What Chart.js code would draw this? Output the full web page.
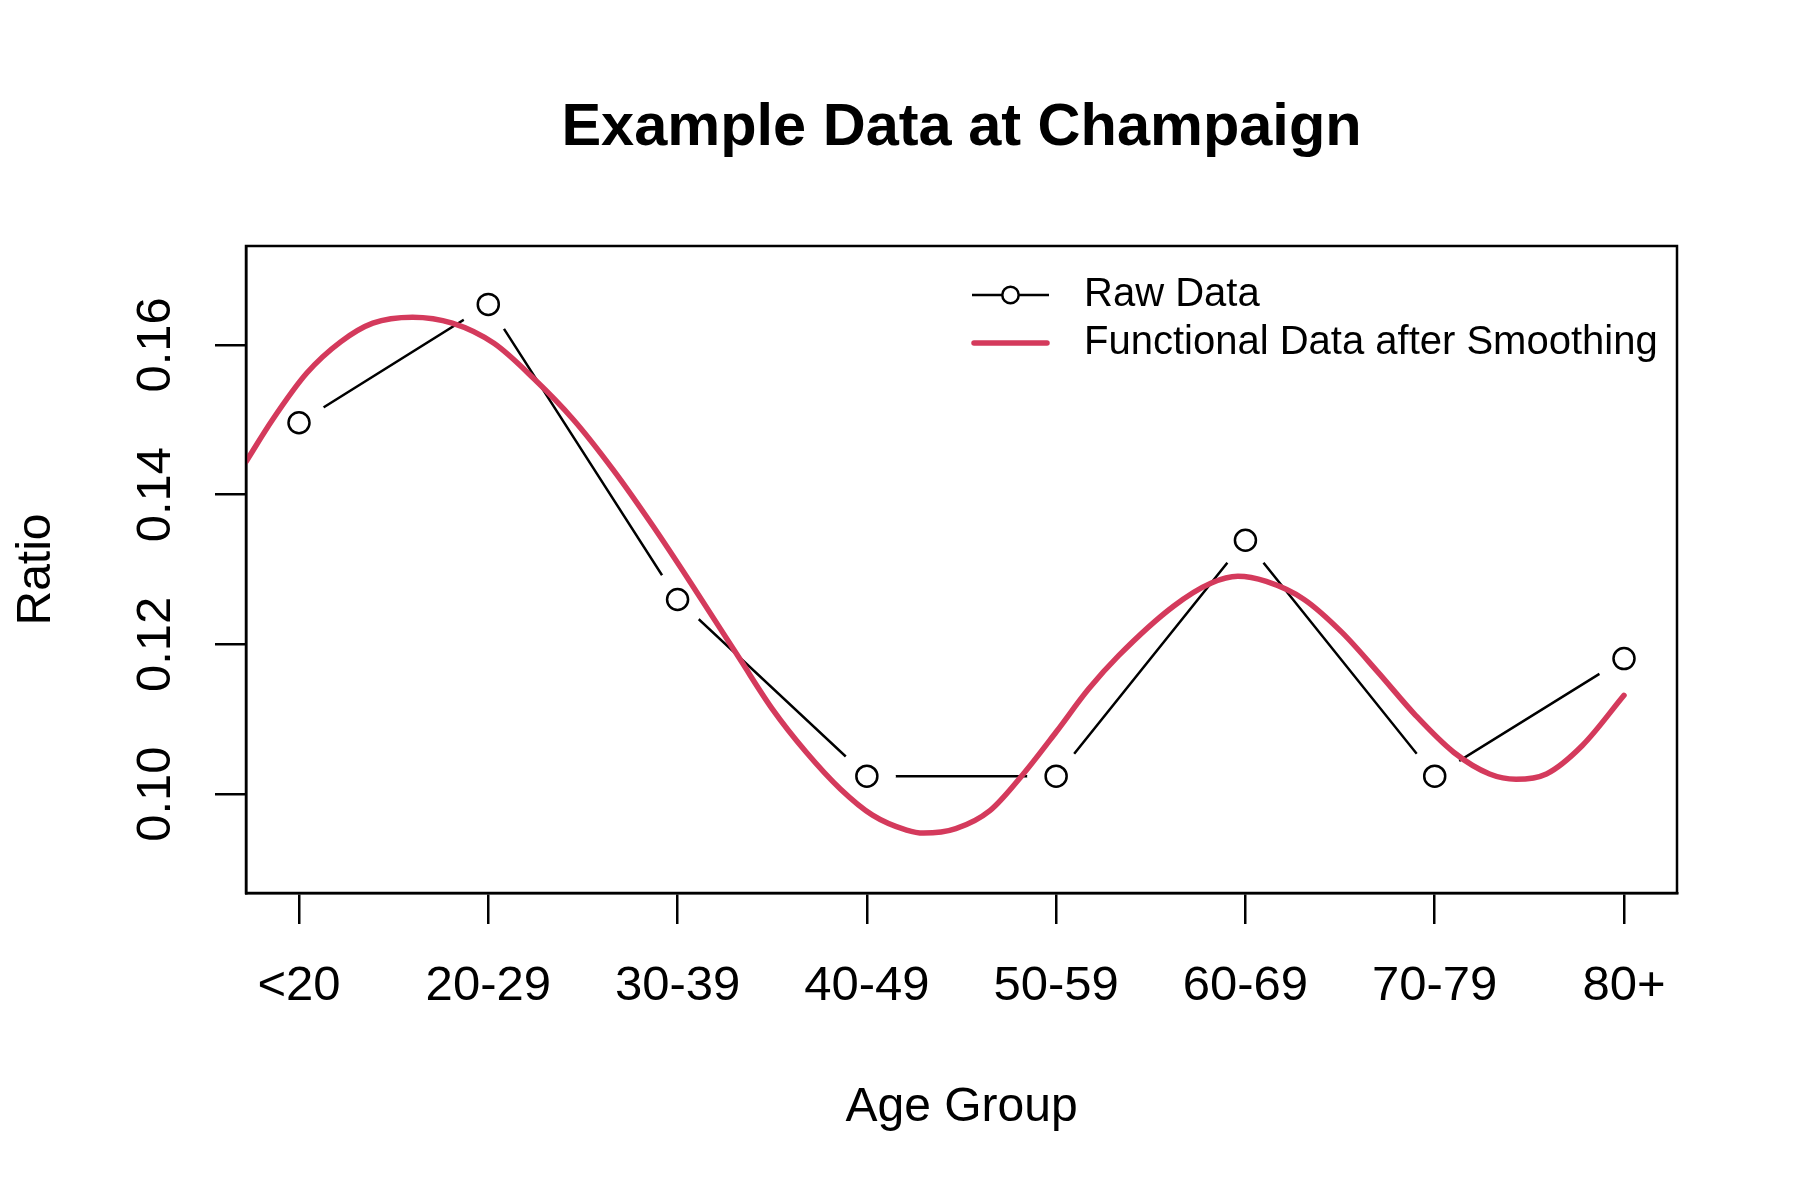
<!DOCTYPE html>
<html>
<head>
<meta charset="utf-8">
<script src="https://cdn.jsdelivr.net/npm/chart.js@4.4.1/dist/chart.umd.min.js"></script>
<style>
  html, body { margin: 0; padding: 0; background: #fff; }
  #wrap { width: 1800px; height: 1200px; }
</style>
</head>
<body>
<div id="wrap"><canvas id="c" width="1800" height="1200"></canvas></div>
<script>
// categories and values
const ageGroups = ['<20', '20-29', '30-39', '40-49', '50-59', '60-69', '70-79', '80+'];
const rawRatio = [0.1496, 0.1654, 0.1260, 0.1024, 0.1024, 0.1339, 0.1024, 0.1181];

// smoothed curve, sampled by eye along the red line (x = group position)
const smoothX = [0.72, 0.86, 1.04, 1.22, 1.39, 1.60, 1.81, 2.03, 2.24, 2.45, 2.66, 2.87, 3.08,
  3.33, 3.50, 3.68, 3.86, 4.03, 4.21, 4.30, 4.47, 4.65, 4.82, 5.00, 5.17, 5.33, 5.62, 5.82,
  5.96, 6.11, 6.31, 6.51, 6.70, 6.90, 7.10, 7.29, 7.43, 7.59, 7.78, 8.00];
const smoothY = [0.1444, 0.1500, 0.1562, 0.1604, 0.1629, 0.1637, 0.1629, 0.1602, 0.1555, 0.1500, 0.1433, 0.1358, 0.1278,
  0.1180, 0.1114, 0.1056, 0.1007, 0.0972, 0.0952, 0.0948, 0.0954, 0.0978, 0.1025, 0.1083, 0.1140, 0.1185, 0.1251, 0.1282,
  0.1291, 0.1284, 0.1260, 0.1216, 0.1163, 0.1105, 0.1056, 0.1027, 0.1020, 0.1027, 0.1065, 0.1132];

const yTicks = [0.10, 0.12, 0.14, 0.16];
const titleText = 'Example Data at Champaign';
const xTitle = 'Age Group';
const yTitle = 'Ratio';

const RED = '#D43A5C';
const FONT = '"Liberation Sans", Arial, Helvetica, sans-serif';

const rawPts = rawRatio.map((v, i) => ({ x: i + 1, y: v }));
const smoothPts = smoothX.map((x, i) => ({ x, y: smoothY[i] }));

// title over the plot box + box + legend inside the box, R style
const rDecor = {
  id: 'rDecor',
  afterDraw(chart) {
    const { ctx, chartArea: a } = chart;
    ctx.save();
    ctx.strokeStyle = '#000';
    ctx.lineWidth = 2.5;
    ctx.strokeRect(a.left, a.top, a.right - a.left, a.bottom - a.top);

    ctx.fillStyle = '#000';
    ctx.font = 'bold 59.5px ' + FONT;
    ctx.textAlign = 'center';
    ctx.textBaseline = 'alphabetic';
    ctx.fillText(titleText, (a.left + a.right) / 2, 145);

    // legend
    const x0 = a.right - 705;
    const rows = [a.top + 49, a.top + 97];
    const ds = chart.data.datasets;
    ctx.lineCap = 'butt';
    ctx.strokeStyle = '#000';
    ctx.lineWidth = 2.5;
    ctx.beginPath(); ctx.moveTo(x0, rows[0]); ctx.lineTo(x0 + 77, rows[0]); ctx.stroke();
    ctx.beginPath(); ctx.arc(x0 + 38.5, rows[0], 8.2, 0, Math.PI * 2);
    ctx.fillStyle = '#fff'; ctx.fill(); ctx.stroke();
    ctx.strokeStyle = RED;
    ctx.lineWidth = 5.5;
    ctx.lineCap = 'round';
    ctx.beginPath(); ctx.moveTo(x0 + 2, rows[1]); ctx.lineTo(x0 + 75, rows[1]); ctx.stroke();

    ctx.fillStyle = '#000';
    ctx.font = '40px ' + FONT;
    ctx.textAlign = 'left';
    ctx.textBaseline = 'middle';
    ctx.fillText(ds[0].label, x0 + 112, rows[0]);
    ctx.fillText(ds[2].label, x0 + 112, rows[1]);
    ctx.restore();
  }
};

Chart.defaults.font.family = FONT;
Chart.defaults.color = '#000';

new Chart(document.getElementById('c'), {
  type: 'line',
  data: {
    datasets: [
      { label: 'Raw Data', data: rawPts, borderColor: '#000', borderWidth: 2.5, pointRadius: 0, tension: 0, order: 4 },
      // white halo so the segments stop short of the circles (type = "b")
      { label: 'gap', data: rawPts, showLine: false, pointRadius: 29, pointBorderWidth: 0,
        pointBackgroundColor: '#fff', order: 3 },
      { label: 'Functional Data after Smoothing', data: smoothPts, borderColor: RED, borderWidth: 5.5,
        pointRadius: 0, cubicInterpolationMode: 'monotone', borderCapStyle: 'round', order: 2 },
      { label: 'points', data: rawPts, showLine: false, pointRadius: 10.5, pointBorderWidth: 2.5,
        pointBorderColor: '#000', pointBackgroundColor: 'rgba(0,0,0,0)', order: 1 }
    ]
  },
  options: {
    responsive: false,
    animation: false,
    devicePixelRatio: 1,
    layout: { padding: { top: 246, right: 123, bottom: 0, left: 0 } },
    plugins: { legend: { display: false }, tooltip: { enabled: false } },
    scales: {
      x: {
        type: 'linear',
        min: 0.72,
        max: 8.28,
        afterBuildTicks: (s) => { s.ticks = ageGroups.map((_, i) => ({ value: i + 1 })); },
        afterFit: (s) => { s.height = 307; },
        ticks: {
          autoSkip: false, minRotation: 0, maxRotation: 0, padding: 33,
          font: { size: 49 }, color: '#000',
          callback: (v) => ageGroups[Math.round(v) - 1]
        },
        grid: { drawOnChartArea: false, drawTicks: true, tickLength: 31, color: '#000', lineWidth: 2.5 },
        border: { display: true, color: '#000', width: 2.5 },
        title: { display: true, text: xTitle, font: { size: 48 }, color: '#000', padding: { top: 0, bottom: 63 } }
      },
      y: {
        min: 0.0868,
        max: 0.1732,
        afterBuildTicks: (s) => { s.ticks = yTicks.map((v) => ({ value: v })); },
        afterFit: (s) => { s.width = 246; },
        ticks: {
          minRotation: 90, maxRotation: 90, crossAlign: 'center', padding: 11,
          font: { size: 49 }, color: '#000',
          callback: (v) => v.toFixed(2)
        },
        grid: { drawOnChartArea: false, drawTicks: true, tickLength: 31, color: '#000', lineWidth: 2.5 },
        border: { display: true, color: '#000', width: 2.5 },
        title: { display: true, text: yTitle, font: { size: 48 }, color: '#000', padding: { top: 8, bottom: 0 } }
      }
    }
  },
  plugins: [rDecor]
});
</script>
</body>
</html>
